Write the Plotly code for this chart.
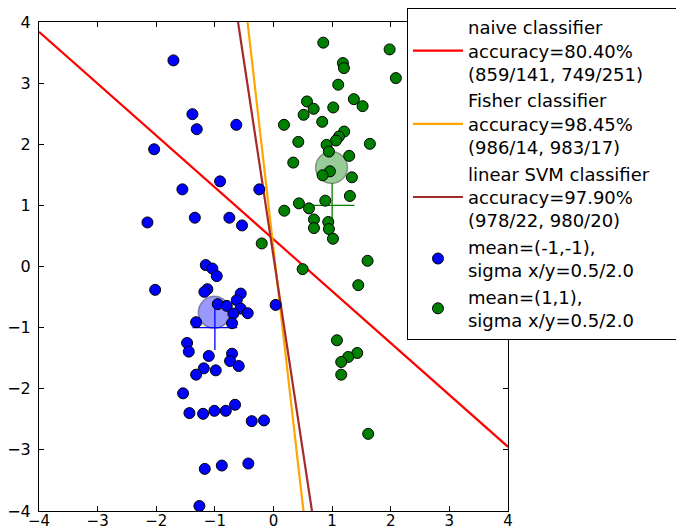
import plotly.graph_objects as go

# ---- data ----
blue_x = [-1.707, -1.383, -1.309, -0.634, -2.036, -0.911, -1.554, -0.242, -2.150, -1.342,
          -0.753, -0.537, -1.155, -1.043, -0.968, -2.019, -1.128, -1.179, -0.559, -0.627,
          -0.951, -0.797, -0.559, 0.037, -0.685, -0.440, -1.320, -0.707, -1.474, -1.445,
          -1.104, -0.707, -0.741, -0.593, -1.189, -0.985, -1.320, -1.542, -1.434, -1.201,
          -1.008, -0.814, -0.656, -0.371, -0.162, -1.172, -0.882, -0.429, -1.264]
blue_y = [3.372, 2.492, 2.246, 2.318, 1.918, 1.393, 1.262, 1.262, 0.721, 0.798,
          0.798, 0.672, 0.023, -0.033, -0.157, -0.382, -0.371, -0.415, -0.443, -0.551,
          -0.616, -0.644, -0.689, -0.628, -0.770, -0.764, -0.911, -0.928, -1.251, -1.393,
          -1.464, -1.426, -1.546, -1.628, -1.666, -1.699, -1.770, -2.075, -2.398, -2.410,
          -2.361, -2.361, -2.262, -2.530, -2.518, -3.311, -3.256, -3.223, -3.918]

green_x = [0.849, 1.980, 1.184, 1.201, 2.087, 1.104, 0.571, 0.685, 0.514, 1.019,
           1.371, 1.520, 0.179, 0.831, 1.206, 1.116, 1.065, 0.423, 1.644, 0.906,
           0.945, 1.291, 0.337, 0.963, 0.838, 1.337, 1.303, 0.883, 0.434, 0.605,
           0.184, 0.690, 0.690, 0.934, 0.945, 1.014, -0.201, 0.497, 1.605, 1.446,
           1.082, 1.428, 1.274, 1.155, 1.155, 1.615]
green_y = [3.662, 3.552, 3.328, 3.246, 3.082, 2.974, 2.700, 2.580, 2.482, 2.602,
           2.738, 2.623, 2.318, 2.367, 2.208, 2.126, 2.061, 2.039, 2.007, 1.990,
           1.880, 1.810, 1.700, 1.557, 1.492, 1.459, 1.154, 1.077, 1.033, 0.951,
           0.913, 0.770, 0.629, 0.728, 0.613, 0.454, 0.377, -0.043, 0.093, -0.305,
           -1.207, -1.415, -1.480, -1.562, -1.770, -2.738]

# classifier boundaries (endpoints at the plot edges)
naive_x = [-4.0, 4.0]
naive_y = [3.84, -2.95]
fisher_x = [-0.443, 0.511]
fisher_y = [4.0, -4.0]
svm_x = [-0.605, 0.656]
svm_y = [4.0, -4.0]

# sample means (big translucent circles) and true means (crosses)
sample_mean_blue = (-1.01, -0.75)
sample_mean_green = (0.99, 1.62)
true_mean_blue = (-1.0, -1.0)
true_mean_green = (1.0, 1.0)

labels = [
    "naive classifier<br>accuracy=80.40%<br>(859/141, 749/251)",
    "Fisher classifier<br>accuracy=98.45%<br>(986/14, 983/17)",
    "linear SVM classifier" + "&nbsp;" * 8 + "<br>accuracy=97.90%<br>(978/22, 980/20)",
    "mean=(-1,-1),<br>sigma x/y=0.5/2.0",
    "mean=(1,1),<br>sigma x/y=0.5/2.0",
]

ticks = [-4, -3, -2, -1, 0, 1, 2, 3, 4]

FONT = "DejaVu Sans"

fig = go.Figure()

fig.add_trace(go.Scatter(x=naive_x, y=naive_y, mode="lines", name=labels[0],
                         line=dict(color="#ff0000", width=2.2)))
fig.add_trace(go.Scatter(x=fisher_x, y=fisher_y, mode="lines", name=labels[1],
                         line=dict(color="#ffa500", width=2.2)))
fig.add_trace(go.Scatter(x=svm_x, y=svm_y, mode="lines", name=labels[2],
                         line=dict(color="#a52a2a", width=2.2)))

for (mx, my), col, edge in [(sample_mean_blue, "rgba(0,0,255,0.4)", "rgba(0,0,0,0.35)"),
                            (sample_mean_green, "rgba(0,128,0,0.4)", "rgba(0,0,0,0.35)")]:
    fig.add_trace(go.Scatter(x=[mx], y=[my], mode="markers", showlegend=False,
                             hoverinfo="skip",
                             marker=dict(size=32, color=col, line=dict(color=edge, width=1.5))))

for (mx, my), col in [(true_mean_blue, "#0000ff"), (true_mean_green, "#008000")]:
    fig.add_trace(go.Scatter(x=[mx], y=[my], mode="markers", showlegend=False,
                             hoverinfo="skip",
                             marker=dict(size=32, symbol="cross-thin",
                                         line=dict(color=col, width=1.3))))

fig.add_trace(go.Scatter(x=blue_x, y=blue_y, mode="markers", name=labels[3],
                         marker=dict(size=11, color="#0000ff",
                                     line=dict(color="black", width=1))))
fig.add_trace(go.Scatter(x=green_x, y=green_y, mode="markers", name=labels[4],
                         marker=dict(size=11, color="#008000",
                                     line=dict(color="black", width=1))))

axis_common = dict(
    range=[-4, 4], tickvals=ticks, ticktext=[("\u2212" + str(-t)) if t < 0 else str(t) for t in ticks],
    showgrid=False, zeroline=False, showline=True, linecolor="black", linewidth=1,
    mirror="ticks", ticks="inside", ticklen=5, tickcolor="black", tickwidth=1,
)

# the page body adds an 8px offset, so the figure is 8px smaller than the window
fig.update_layout(
    width=676, height=523,
    margin=dict(l=31, r=176, t=14, b=20, autoexpand=False),
    paper_bgcolor="white", plot_bgcolor="white",
    font=dict(family=FONT, color="black"),
    xaxis=dict(**axis_common, ticklabelstandoff=-4,
               tickfont=dict(family=FONT, size=15, color="black")),
    yaxis=dict(**axis_common, ticklabelstandoff=4,
               tickfont=dict(family=FONT, size=16, color="black")),
    showlegend=True,
    legend=dict(
        x=0.7846, y=1.0286, xanchor="left", yanchor="top",
        xref="paper", yref="paper",
        bgcolor="white", bordercolor="black", borderwidth=1,
        font=dict(family=FONT, size=18, color="black"),
        itemwidth=50, tracegroupgap=0, valign="middle",
        maxheight=500,
    ),
)

fig.write_html("out.html")
